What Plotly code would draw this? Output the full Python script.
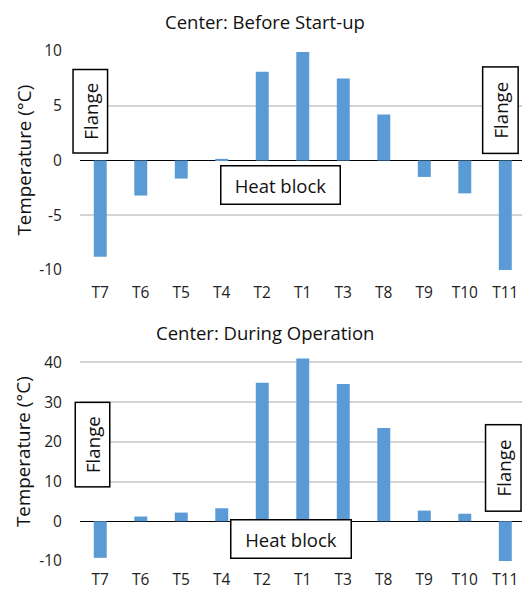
import plotly.graph_objects as go
from plotly.subplots import make_subplots

categories = ["T7", "T6", "T5", "T4", "T2", "T1", "T3", "T8", "T9", "T10", "T11"]
before_startup = [-8.8, -3.2, -1.65, 0.15, 8.1, 9.9, 7.5, 4.2, -1.5, -3.0, -10.0]
during_operation = [-9.2, 1.2, 2.2, 3.3, 34.9, 41.0, 34.6, 23.5, 2.7, 1.9, -10.2]
titles = ["Center: Before Start-up", "Center: During Operation"]
y_title = "Temperature (°C)"
top_ticks = [-10, -5, 0, 5, 10]
top_tick_text = ["-10", "-5", "0", "5", "10"]
bottom_ticks = [-10, 0, 10, 20, 30, 40]
bottom_tick_text = ["-10", "0", "10", "20", "30", "40"]

FONT = "Open Sans"
BAR = "#5B9BD5"
OFF = 8  # default page body margin
W, H = 530 - OFF, 592 - OFF

fig = make_subplots(rows=2, cols=1)
fig.add_trace(go.Bar(x=categories, y=before_startup, marker_color=BAR, width=0.32,
                     marker_line_width=0), row=1, col=1)
fig.add_trace(go.Bar(x=categories, y=during_operation, marker_color=BAR, width=0.32,
                     marker_line_width=0), row=2, col=1)

def py2p(py):
    return 1 - (py - OFF) / H

def px2p(px):
    return (px - OFF) / W

fig.update_xaxes(showline=False, showgrid=False, zeroline=False, automargin=False,
                 tickfont=dict(family=FONT, size=15.5, color="#222"),
                 ticks="outside", ticklen=8, tickcolor="rgba(0,0,0,0)",
                 range=[-0.5, 10.61], domain=[px2p(80), 1.0])
fig.update_xaxes(ticklen=4, row=2, col=1)

fig.update_yaxes(showline=False, showgrid=True, gridcolor="#d4d4d4", gridwidth=1.5,
                 automargin=False, zeroline=True, zerolinecolor="#000000", zerolinewidth=1.2,
                 tickfont=dict(family=FONT, size=15.5, color="#222"),
                 ticks="outside", ticklen=14, tickcolor="rgba(0,0,0,0)")
fig.update_yaxes(range=[-10, 10], tickvals=top_ticks, ticktext=top_tick_text,
                 domain=[py2p(270), py2p(51)], row=1, col=1)
fig.update_yaxes(range=[-10, 41.5], tickvals=bottom_ticks, ticktext=bottom_tick_text,
                 domain=[py2p(561), py2p(356.5)], row=2, col=1)

ann = [
    dict(text=titles[0], x=px2p(265), y=1.0, xref="paper", yref="paper",
         showarrow=False, font=dict(family=FONT, size=18.5, color="#111"),
         xanchor="center", yanchor="top", borderpad=0),
    dict(text=titles[1], x=px2p(265), y=py2p(332), xref="paper", yref="paper",
         showarrow=False, font=dict(family=FONT, size=18.5, color="#111"),
         xanchor="center", yanchor="middle"),
]
for py in [160.5, 452]:
    ann.append(dict(text=y_title, x=px2p(23), y=py2p(py), xref="paper", yref="paper",
                    showarrow=False, textangle=-90, font=dict(family=FONT, size=18.8, color="#111"),
                    xanchor="center", yanchor="middle"))

def box(text, x, y, xr, yr, w, h, rot, size):
    return dict(text=text, x=x, y=y, xref=xr, yref=yr, showarrow=False,
                textangle=-90 if rot else 0, width=w, height=h,
                bordercolor="#000", borderwidth=1.5, borderpad=0, bgcolor="#fff",
                font=dict(family=FONT, size=size, color="#111"),
                xanchor="center", yanchor="middle", align="center", valign="middle")

ann += [
    box("Flange", -0.24, 4.5, "x", "y", 82, 33, True, 18.7),
    box("Flange", 9.87, 4.6, "x", "y", 85, 34, True, 18.7),
    box("Heat block", 4.46, -2.24, "x", "y", 118, 37, False, 18.5),
    box("Flange", -0.19, 19.2, "x2", "y2", 83, 33, True, 18.7),
    box("Flange", 9.94, 13.4, "x2", "y2", 85, 34, True, 18.7),
    box("Heat block", 4.72, -4.5, "x2", "y2", 119, 37, False, 18.5),
]

fig.update_layout(width=W, height=H, margin=dict(l=0, r=0, t=0, b=0),
                  paper_bgcolor="#fff", plot_bgcolor="#fff", showlegend=False,
                  annotations=ann, bargap=0.68)
fig.write_html("out.html")
